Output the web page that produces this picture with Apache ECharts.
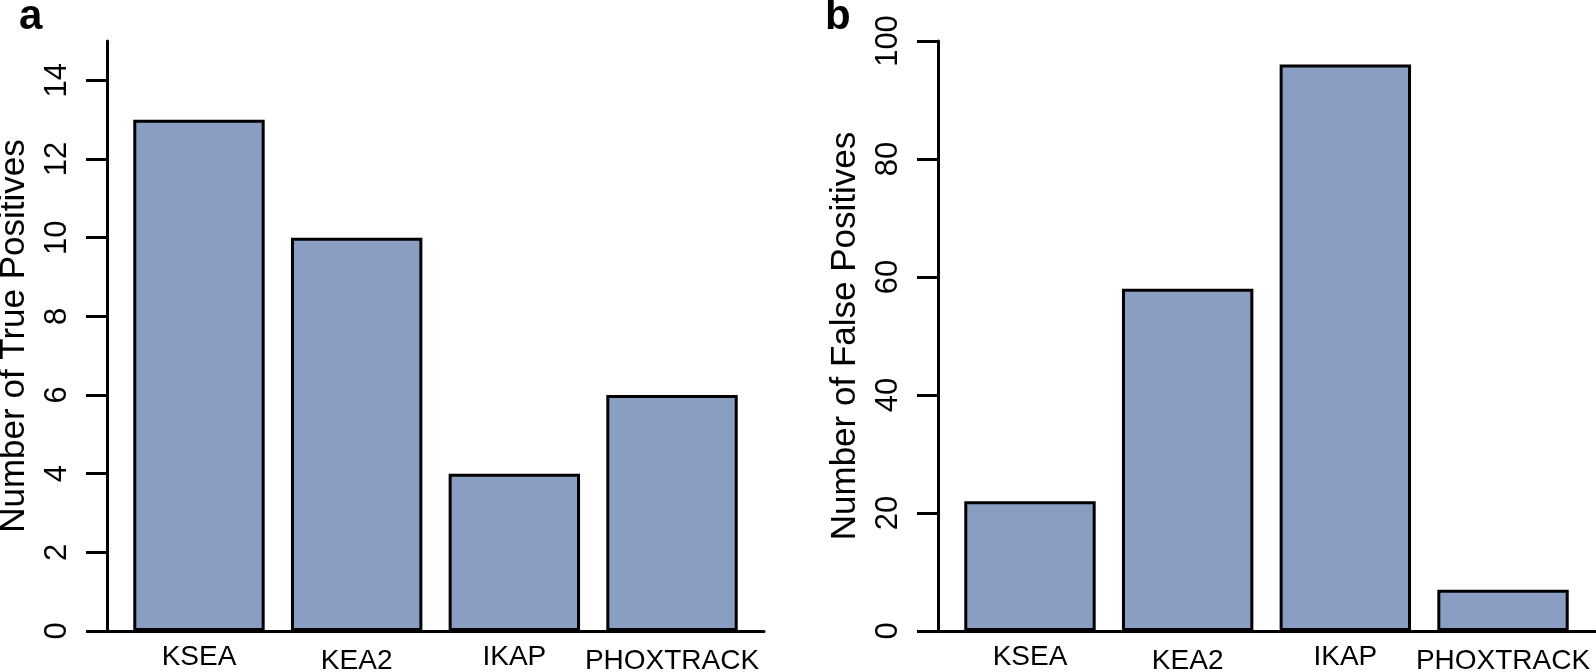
<!DOCTYPE html>
<html>
<head>
<meta charset="utf-8">
<script src="https://cdn.jsdelivr.net/npm/echarts@6/dist/echarts.min.js"></script>
<style>html,body{margin:0;padding:0;background:#fff}#c{width:1596px;height:672px}</style>
</head>
<body>
<div id="c"></div>
<script>
const categories = ['KSEA', 'KEA2', 'IKAP', 'PHOXTRACK'];
const truePositives = [13, 10, 4, 6];
const falsePositives = [22, 58, 96, 7];
const tpTicks = [0, 2, 4, 6, 8, 10, 12, 14];
const fpTicks = [0, 20, 40, 60, 80, 100];
const panelLetters = ['a', 'b'];
const yTitles = ['Number of True Positives', 'Number of False Positives'];

const FONT = '"Liberation Sans", Arial, Helvetica, sans-serif';
const BAR = '#8A9DC2';

function frameAxes(gi, ymax, ticks, title) {
  return {
    x: {
      gridIndex: gi, type: 'value', min: 0, max: 5,
      axisLine: { show: true, onZero: false, lineStyle: { color: '#000', width: 3 } },
      axisTick: { show: false }, axisLabel: { show: false }, splitLine: { show: false }
    },
    y: {
      gridIndex: gi, type: 'value', min: 0, max: ymax,
      name: title, nameLocation: 'middle', nameGap: 75,
      nameTextStyle: { fontFamily: FONT, fontSize: 35, color: '#000' },
      axisLine: { show: true, onZero: false, lineStyle: { color: '#000', width: 3 } },
      axisTick: { show: true, length: 21, customValues: ticks, lineStyle: { color: '#000', width: 3 } },
      axisLabel: { show: true, customValues: ticks, rotate: 90, margin: 34, fontFamily: FONT, fontSize: 31, color: '#000' },
      splitLine: { show: false }
    }
  };
}
function barAxes(gi, ymax) {
  return {
    x: {
      gridIndex: gi, type: 'category', data: categories,
      axisLine: { show: false }, axisTick: { show: false }, splitLine: { show: false },
      axisLabel: {
        show: true, interval: 0, margin: 12,
        formatter: (v, i) => (i % 2 ? '{lo|' + v + '}' : '{hi|' + v + '}'),
        rich: {
          hi: { fontFamily: FONT, fontSize: 28, color: '#000' },
          lo: { fontFamily: FONT, fontSize: 28, color: '#000', padding: [4, 0, 0, 0] }
        }
      }
    },
    y: { gridIndex: gi, type: 'value', min: 0, max: ymax, show: false, splitLine: { show: false } }
  };
}

const fa = frameAxes(0, 15, tpTicks, yTitles[0]);
const ba = barAxes(1, 15);
const fb = frameAxes(2, 100, fpTicks, yTitles[1]);
const bb = barAxes(3, 100);

const unit = 131.4;
const g = (left, width) => ({ left: left, top: 41, width: width, height: 590, containLabel: false, outerBoundsMode: 'none' });
const option = {
  animation: false,
  backgroundColor: '#fff',
  grid: [
    g(107, 5 * unit),
    g(107 + 0.1 * unit, 4.8 * unit),
    g(938, 5 * unit),
    g(938 + 0.1 * unit, 4.8 * unit)
  ],
  xAxis: [fa.x, ba.x, fb.x, bb.x],
  yAxis: [fa.y, ba.y, fb.y, bb.y],
  series: [
    {
      type: 'bar', xAxisIndex: 1, yAxisIndex: 1, data: truePositives,
      barCategoryGap: '16.667%',
      itemStyle: { color: BAR, borderColor: '#000', borderWidth: 3 }, z: 3
    },
    {
      type: 'bar', xAxisIndex: 3, yAxisIndex: 3, data: falsePositives,
      barCategoryGap: '16.667%',
      itemStyle: { color: BAR, borderColor: '#000', borderWidth: 3 }, z: 3
    }
  ],
  graphic: [
    { type: 'text', left: 19, top: -4, style: { text: panelLetters[0], font: 'bold 42px ' + FONT, fill: '#000' } },
    { type: 'text', left: 825, top: -4, style: { text: panelLetters[1], font: 'bold 42px ' + FONT, fill: '#000' } }
  ]
};
const chart = echarts.init(document.getElementById('c'), null, { renderer: 'canvas' });
chart.setOption(option);
</script>
</body>
</html>
